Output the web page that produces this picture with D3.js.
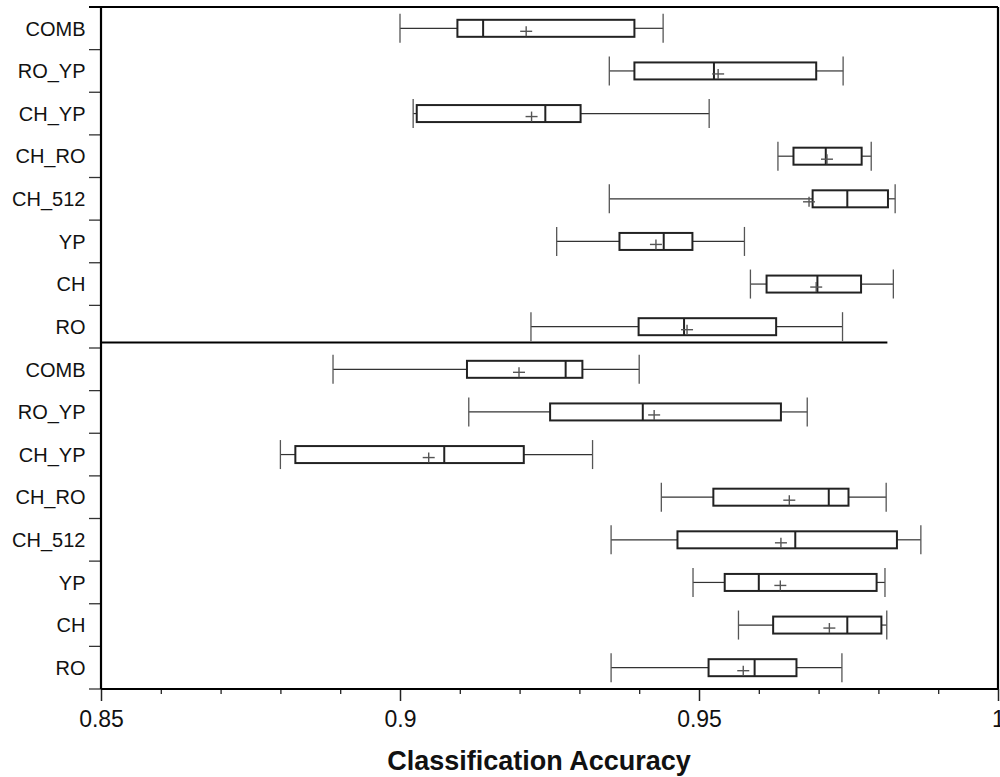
<!DOCTYPE html>
<html>
<head>
<meta charset="utf-8">
<script src="https://cdn.jsdelivr.net/npm/d3@7"></script>
<style>
  html, body { margin: 0; padding: 0; background: #fff; }
  svg { display: block; font-family: "Liberation Sans", Arial, Helvetica, sans-serif; }
</style>
</head>
<body>
<svg id="chart" width="1000" height="777"></svg>
<script>
// Feature sets, listed top to bottom; the same eight appear in both panels.
const categories = ["COMB", "RO_YP", "CH_YP", "CH_RO", "CH_512", "YP", "CH", "RO"];
const panels = ["upper", "lower"];

// Box-plot statistics, upper panel rows followed by lower panel rows.
const whiskerLow  = [0.9000, 0.9350, 0.9022, 0.9632, 0.9350, 0.9262, 0.9586, 0.9219,
                     0.8888, 0.9115, 0.8800, 0.9437, 0.9353, 0.9490, 0.9566, 0.9353];
const quartile1   = [0.9096, 0.9392, 0.9028, 0.9658, 0.9690, 0.9367, 0.9613, 0.9399,
                     0.9112, 0.9251, 0.8825, 0.9524, 0.9464, 0.9543, 0.9624, 0.9516];
const medians     = [0.9139, 0.9525, 0.9243, 0.9712, 0.9748, 0.9441, 0.9698, 0.9475,
                     0.9277, 0.9406, 0.9074, 0.9717, 0.9661, 0.9600, 0.9748, 0.9593];
const quartile3   = [0.9392, 0.9696, 0.9302, 0.9772, 0.9816, 0.9489, 0.9771, 0.9629,
                     0.9305, 0.9637, 0.9207, 0.9750, 0.9831, 0.9797, 0.9805, 0.9663];
const whiskerHigh = [0.9440, 0.9741, 0.9517, 0.9788, 0.9828, 0.9576, 0.9825, 0.9740,
                     0.9400, 0.9681, 0.9322, 0.9813, 0.9871, 0.9811, 0.9814, 0.9739];
const means       = [0.9211, 0.9532, 0.9220, 0.9714, 0.9684, 0.9428, 0.9696, 0.9480,
                     0.9199, 0.9425, 0.9048, 0.9651, 0.9637, 0.9636, 0.9718, 0.9574];

// Axis ticks
const majorTicks = [0.85, 0.9, 0.95, 1.0];
const minorTicks = [0.86, 0.87, 0.88, 0.89, 0.91, 0.92, 0.93, 0.94, 0.96, 0.97, 0.98, 0.99];
const majorTickLabels = ["0.85", "0.9", "0.95", "1"];
const axisTitle = "Classification Accuracy";

const rows = [];
panels.forEach((p, pi) => categories.forEach((c, ci) => {
  const i = pi * categories.length + ci;
  rows.push({
    index: i, panel: p, label: c,
    lo: whiskerLow[i], q1: quartile1[i], med: medians[i],
    q3: quartile3[i], hi: whiskerHigh[i], mean: means[i]
  });
}));

const svg = d3.select("#chart");
const plotLeft = 101, plotRight = 998, plotTop = 7, plotBottom = 689;

const x = d3.scaleLinear().domain([0.85, 1.0]).range([plotLeft, plotRight]);
const y = d3.scaleBand().domain(d3.range(rows.length)).range([plotTop, plotBottom])
  .paddingInner(0).paddingOuter(0);

const boxH = 17, capH = 29;

// Row boundary ticks on the left
const boundaries = d3.range(rows.length + 1).map(i => plotTop + i * y.step());
svg.append("g").selectAll("line").data(boundaries).join("line")
  .attr("x1", plotLeft - 12).attr("x2", plotLeft)
  .attr("y1", d => d).attr("y2", d => d)
  .attr("stroke", "#333").attr("stroke-width", 1.3);

// Category labels through a left axis
const yAxis = d3.axisLeft(y).tickSize(0).tickPadding(15.5).tickFormat(i => rows[i].label);
const gy = svg.append("g").attr("transform", `translate(${plotLeft},0)`).call(yAxis);
gy.select(".domain").remove();
gy.selectAll("text")
  .attr("font-size", 20).attr("fill", "#111")
  .attr("dy", "0.36em")
  .style("font-family", '"Liberation Sans", Arial, sans-serif');

// Bottom axis: minor and major ticks
const gMinor = svg.append("g").attr("transform", `translate(0,${plotBottom})`)
  .call(d3.axisBottom(x).tickValues(minorTicks).tickSize(5).tickFormat(""));
gMinor.select(".domain").remove();
gMinor.selectAll("line").attr("stroke", "#222").attr("stroke-width", 1.3);

const gMajor = svg.append("g").attr("transform", `translate(0,${plotBottom})`)
  .call(d3.axisBottom(x).tickValues(majorTicks).tickSize(12).tickPadding(10)
    .tickFormat((d, i) => majorTickLabels[i]));
gMajor.select(".domain").remove();
gMajor.selectAll("line").attr("stroke", "#222").attr("stroke-width", 1.5);
gMajor.selectAll("text")
  .attr("font-size", 23).attr("fill", "#111")
  .style("font-family", '"Liberation Sans", Arial, sans-serif');

// Frame
const frame = svg.append("g").attr("stroke", "#000").attr("stroke-width", 2.2).attr("fill", "none");
frame.append("line").attr("x1", plotLeft - 12).attr("x2", plotRight).attr("y1", plotTop).attr("y2", plotTop);
frame.append("line").attr("x1", plotLeft).attr("x2", plotLeft).attr("y1", plotTop).attr("y2", plotBottom);
frame.append("line").attr("x1", plotRight).attr("x2", plotRight).attr("y1", plotTop).attr("y2", plotBottom);
frame.append("line").attr("x1", plotLeft).attr("x2", plotRight).attr("y1", plotBottom).attr("y2", plotBottom);
// Panel divider
const dividerY = plotTop + categories.length * y.step() - 5.5;
frame.append("line")
  .attr("x1", plotLeft).attr("x2", x(0.9815))
  .attr("y1", dividerY).attr("y2", dividerY);

// Boxes
const g = svg.append("g").selectAll("g").data(rows).join("g")
  .attr("transform", d => `translate(0,${y(d.index) + y.bandwidth() / 2})`);

// whisker stems
g.append("line").attr("x1", d => x(d.lo)).attr("x2", d => x(d.q1))
  .attr("stroke", "#333").attr("stroke-width", 1.2);
g.append("line").attr("x1", d => x(d.q3)).attr("x2", d => x(d.hi))
  .attr("stroke", "#333").attr("stroke-width", 1.2);
// whisker caps
g.append("line").attr("x1", d => x(d.lo)).attr("x2", d => x(d.lo))
  .attr("y1", -capH / 2).attr("y2", capH / 2)
  .attr("stroke", "#555").attr("stroke-width", 1.3);
g.append("line").attr("x1", d => x(d.hi)).attr("x2", d => x(d.hi))
  .attr("y1", -capH / 2).attr("y2", capH / 2)
  .attr("stroke", "#555").attr("stroke-width", 1.3);
// box
g.append("rect")
  .attr("x", d => x(d.q1)).attr("width", d => x(d.q3) - x(d.q1))
  .attr("y", -boxH / 2).attr("height", boxH)
  .attr("fill", "#fff").attr("stroke", "#222").attr("stroke-width", 2);
// median
g.append("line").attr("x1", d => x(d.med)).attr("x2", d => x(d.med))
  .attr("y1", -boxH / 2).attr("y2", boxH / 2)
  .attr("stroke", "#222").attr("stroke-width", 2);
// mean marker
const mean = g.append("g").attr("transform", d => `translate(${x(d.mean)},3)`)
  .attr("stroke", "#555").attr("stroke-width", 1.4);
mean.append("line").attr("x1", -6).attr("x2", 6);
mean.append("line").attr("y1", -5).attr("y2", 5);

// Axis title
svg.append("text")
  .attr("x", 539).attr("y", 770)
  .attr("text-anchor", "middle")
  .attr("font-size", 27).attr("font-weight", "bold").attr("fill", "#111")
  .text(axisTitle);
</script>
</body>
</html>
